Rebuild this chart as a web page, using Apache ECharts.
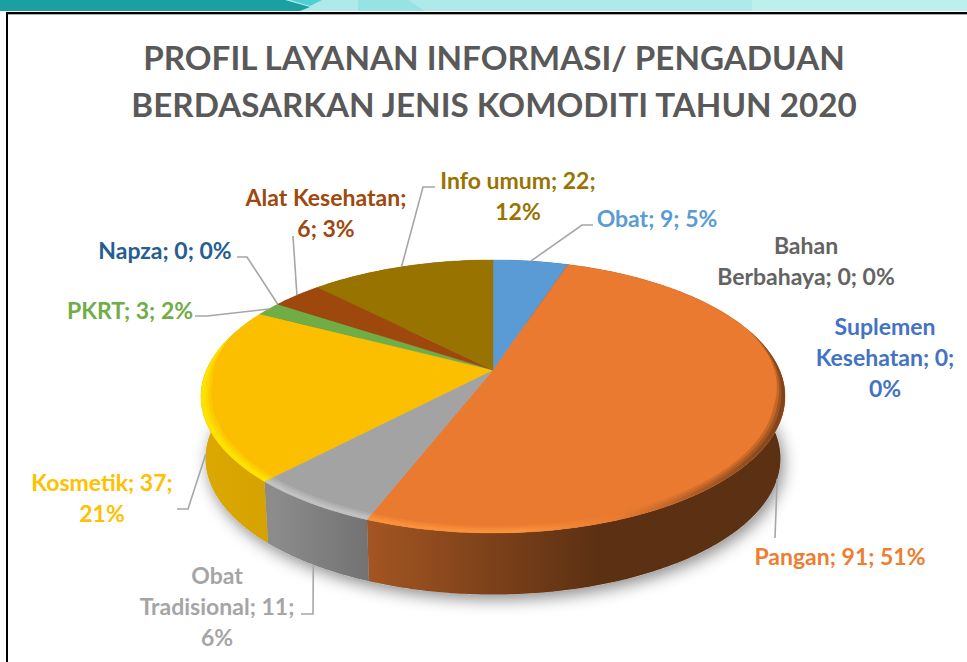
<!DOCTYPE html>
<html><head><meta charset="utf-8">
<style>html,body{margin:0;padding:0;background:#fff}#c{width:967px;height:662px}#c text{font-variant-ligatures:none}</style>
<script src="https://cdn.jsdelivr.net/npm/echarts@6/dist/echarts.min.js"></script>
</head><body><div id="c"></div>
<script>
// ---- data ----
const categories = ['Obat','Bahan Berbahaya','Suplemen Kesehatan','Pangan','Obat Tradisional','Kosmetik','PKRT','Napza','Alat Kesehatan','Info umum'];
const values = [9,0,0,91,11,37,3,0,6,22];
const percents = [5,0,0,51,6,21,2,0,3,12];
const sliceColors = ['#5B9BD5','#A5A5A5','#4472C4','#E97A30','#A3A3A3','#FBBF00','#70AD47','#255E91','#9E480E','#997300'];
const labelColors = ['#5B9BD5','#636363','#4472C4','#ED7D31','#A5A5A5','#FFC000','#70AD47','#255E91','#9E480E','#997300'];
const titleLines = ['PROFIL LAYANAN INFORMASI/ PENGADUAN','BERDASARKAN JENIS KOMODITI TAHUN 2020'];

// ---- layout of the tilted disc (perspective projection) ----
const topDisc = {cx:493, cy:370, a:286.5, b:131.4, k:0.194};
const lowDisc = {cx:493, cy:432, a:282, b:131, k:0.194};
const total = values.reduce((s,v)=>s+v,0);
const startOf = i => values.slice(0,i).reduce((s,v)=>s+v,0);
const angle = v => v/total*2*Math.PI;
function project(d,t,r){ r = r===undefined?1:r;
  const s=Math.sin(t)*r,c=Math.cos(t)*r,w=1+d.k*c;
  return [d.cx+d.a*s/w, d.cy-d.b*c/w]; }
function arc(d,t0,t1,r){ const n=Math.max(2,Math.ceil((t1-t0)/0.012)),p=[];
  for(let i=0;i<=n;i++)p.push(project(d,t0+(t1-t0)*i/n,r)); return p; }
function shade(hex,f){ const n=parseInt(hex.slice(1),16);
  const ch=[n>>16,(n>>8)&255,n&255].map(v=>Math.min(255,Math.round(v*f)));
  return 'rgb('+ch.join(',')+')'; }
const X0=200,X1=786;
function hGrad(hex,stops){ return new echarts.graphic.LinearGradient(X0,0,X1,0,
  stops.map(s=>({offset:(s[0]-X0)/(X1-X0),color:shade(hex,s[1])})),true); }
const wallStops=[[200,.88],[268,.85],[272,.86],[370,.70],[480,.55],[600,.39],[786,.39]];
const rimStops=[[200,1.22],[520,1.22],[620,1.0],[700,.7],[786,.45]];
const RIM_FROM=1.25, RIM_TO=5.0;

// bevel: a band along the front rim that tapers to nothing at both ends
function rimBand(t0,t1,width){
  const a0=Math.max(t0,RIM_FROM),a1=Math.min(t1,RIM_TO);
  if(a1<=a0)return null;
  const n=Math.max(2,Math.ceil((a1-a0)/0.012)),inner=[];
  for(let i=0;i<=n;i++){
    const t=a0+(a1-a0)*i/n;
    const f=Math.min(1,(t-RIM_FROM)/.6,(RIM_TO-t)/.4);
    inner.push(project(topDisc,t,1-width*f));
  }
  return arc(topDisc,a0,a1).concat(inner.reverse());
}

// label text, wrap and leader geometry
const labelLayout = {
  0:{text:'Obat; 9; 5%',x:657,y:218,leader:[[582,225],[593,225]]},
  1:{text:'Bahan\nBerbahaya; 0; 0%',x:806,y:245},
  2:{text:'Suplemen\nKesehatan; 0;\n0%',x:885,y:326},
  3:{text:'Pangan; 91; 51%',x:840,y:556,leader:[[775,538]]},
  4:{text:'Obat\nTradisional; 11;\n6%',x:217,y:575,leader:[[313,614],[301,614]]},
  5:{text:'Kosmetik; 37;\n21%',x:102,y:482,leader:[[188,509],[177,509]]},
  6:{text:'PKRT; 3; 2%',x:130,y:310,leader:[[207,316],[195,316]]},
  7:{text:'Napza; 0; 0%',x:165,y:250,leader:[[247,257],[237,257]]},
  8:{text:'Alat Kesehatan;\n6; 3%',x:326,y:197,leader:[[293,236]]},
  9:{text:'Info umum; 22;\n12%',x:518,y:180,leader:[[423,187],[435,187]]}
};

function renderShadow(){
  return {type:'polygon',shape:{points:arc(lowDisc,0,2*Math.PI)},
    style:{fill:'#bbb',shadowBlur:16,shadowColor:'rgba(0,0,0,0.45)',shadowOffsetY:5,shadowOffsetX:3}};
}
function renderWall(p,api){
  const i=api.value(0); if(!values[i])return null;
  const t0=angle(startOf(i)),t1=angle(startOf(i)+values[i]);
  const pts=arc(topDisc,t0,t1).concat(arc(lowDisc,t0,t1).reverse());
  return {type:'polygon',shape:{points:pts},style:{fill:hGrad(sliceColors[i],wallStops)}};
}
function renderTop(p,api){
  const i=api.value(0); if(!values[i])return null;
  const t0=angle(startOf(i)),t1=angle(startOf(i)+values[i]);
  const kids=[{type:'polygon',shape:{points:[[topDisc.cx,topDisc.cy]].concat(arc(topDisc,t0,t1))},
    style:{fill:sliceColors[i],stroke:sliceColors[i],lineWidth:.4}}];
  const g=hGrad(sliceColors[i],rimStops);
  [[.034,.3],[.024,.4],[.014,.6]].forEach(b=>{
    const pts=rimBand(t0,t1,b[0]);
    if(pts)kids.push({type:'polygon',shape:{points:pts},style:{fill:g,opacity:b[1]}});
  });
  return {type:'group',children:kids};
}
function renderLabel(p,api){
  const i=api.value(0),L=labelLayout[i],kids=[];
  if(L.leader){
    const mid=angle(startOf(i)+values[i]/2);
    const front=Math.cos(mid)<0;
    const start=project(front?lowDisc:topDisc,mid);
    kids.push({type:'polyline',shape:{points:[start].concat(L.leader)},
      style:{fill:'none',stroke:'#a6a6a6',lineWidth:1.6}});
  }
  kids.push({type:'text',style:{text:L.text,x:L.x,y:L.y-15.5,align:'center',verticalAlign:'top',
    fill:labelColors[i],font:'bold 23px Lato',lineHeight:31}});
  return {type:'group',children:kids};
}
const indices=categories.map((c,i)=>[i]);
const chart=echarts.init(document.getElementById('c'),null,{renderer:'svg'});
chart.setOption({
  animation:false,
  backgroundColor:'#fff',
  title:{text:titleLines.join('\n'),left:489,top:28,textAlign:'center',
    textStyle:{color:'#595959',fontFamily:'Lato',fontWeight:'bold',fontSize:33.2,lineHeight:47}},
  graphic:[
    {type:'rect',silent:true,shape:{x:0,y:0,width:967,height:11},style:{fill:'#BDEFEF'}},
    {type:'rect',silent:true,shape:{x:0,y:0,width:752,height:11},style:{fill:'#AEEAEA'}},
    {type:'polygon',silent:true,shape:{points:[[358,0],[408,0],[425,11],[358,11]]},style:{fill:'#97E2E5'}},
    {type:'polygon',silent:true,shape:{points:[[0,0],[285,0],[310,7],[300,11],[0,11]]},style:{fill:'#1C9FA1'}},
    {type:'polygon',silent:true,shape:{points:[[290,0],[322,0],[310,6]]},style:{fill:'#4FCFD1'}},
    {type:'rect',silent:true,shape:{x:6,y:14,width:961,height:1},style:{fill:'#aaa'}},
    {type:'rect',silent:true,shape:{x:6,y:12,width:961,height:2},style:{fill:'#000'}},
    {type:'rect',silent:true,shape:{x:6,y:12,width:2,height:650},style:{fill:'#000'}}
  ],
  series:[
    {type:'custom',name:'shadow',coordinateSystem:'none',z:1,silent:true,data:[[total]],renderItem:renderShadow},
    {type:'custom',name:'wall',coordinateSystem:'none',z:2,silent:true,data:indices,renderItem:renderWall},
    {type:'custom',name:'top',coordinateSystem:'none',z:3,silent:true,data:indices,renderItem:renderTop},
    {type:'custom',name:'labels',coordinateSystem:'none',z:4,silent:true,data:indices,renderItem:renderLabel}
  ]
});
</script></body></html>
